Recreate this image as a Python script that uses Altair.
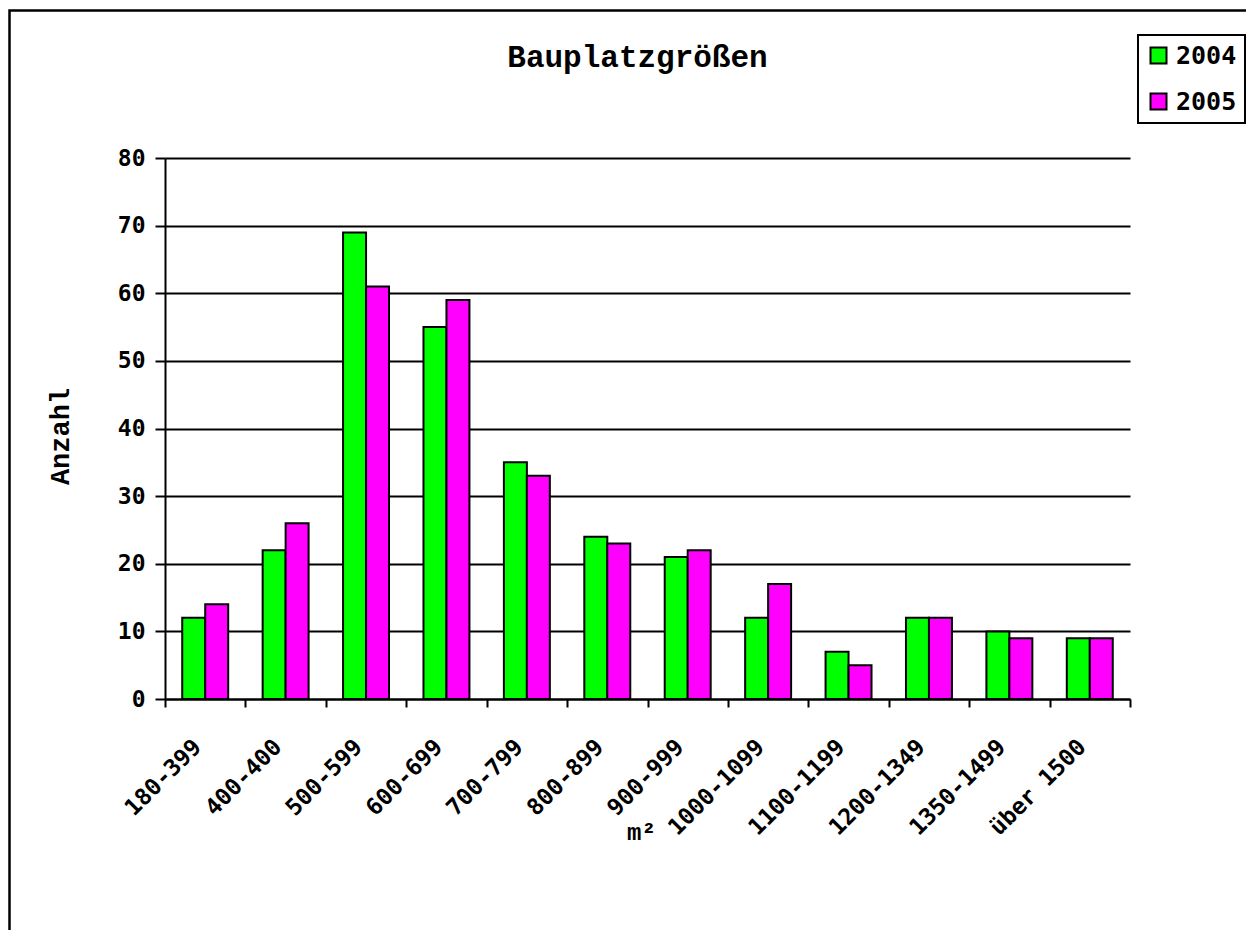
import altair as alt
import pandas as pd

categories = ["180-399", "400-400", "500-599", "600-699", "700-799", "800-899",
              "900-999", "1000-1099", "1100-1199", "1200-1349", "1350-1499", "über 1500"]
values_2004 = [12, 22, 69, 55, 35, 24, 21, 12, 7, 12, 10, 9]
values_2005 = [14, 26, 61, 59, 33, 23, 22, 17, 5, 12, 9, 9]
series = ["2004", "2005"]
colors = ["#00ff00", "#ff00ff"]
y_ticks = [0, 10, 20, 30, 40, 50, 60, 70, 80]
title_text = "Bauplatzgrößen"
x_title = "m²"
y_title = "Anzahl"

rows = []
for c, a, b in zip(categories, values_2004, values_2005):
    rows.append({"Kategorie": c, "Jahr": "2004", "Anzahl": a})
    rows.append({"Kategorie": c, "Jahr": "2005", "Anzahl": b})
df = pd.DataFrame(rows)

W, H = 965, 541
MONO = "Liberation Mono"
LBL = "DejaVu Sans Mono"

bars = alt.Chart(df).mark_bar(stroke="black", strokeWidth=2).encode(
    x=alt.X("Kategorie:N", sort=categories,
            scale=alt.Scale(paddingInner=0, paddingOuter=0),
            axis=alt.Axis(title=x_title, labelAngle=-45, labelAlign="right",
                          labelBaseline="middle", labelPadding=36, labelOffset=-8,
                          tickSize=8, tickBand="extent", tickWidth=2, tickColor="black",
                          domainColor="black", domainWidth=2,
                          labelFont=LBL, labelFontSize=23, labelFontWeight="bold",
                          labelColor="black",
                          titleFont=MONO, titleFontSize=24, titleFontWeight="bold",
                          titleColor="black", titleX=476, titleY=133,
                          titleBaseline="middle", titleAnchor="start", titleAlign="center")),
    xOffset=alt.XOffset("Jahr:N", sort=series,
                        scale=alt.Scale(paddingInner=0, paddingOuter=0.75)),
    y=alt.Y("Anzahl:Q", scale=alt.Scale(domain=[0, 80], nice=False),
            axis=alt.Axis(title=y_title, values=y_ticks, tickSize=10, tickWidth=2,
                          tickColor="black", domainColor="black", domainWidth=2,
                          grid=True, gridColor="black", gridWidth=2, gridOpacity=1,
                          labelPadding=10,
                          labelFont=LBL, labelFontSize=23, labelFontWeight="bold",
                          labelColor="black",
                          titleFont=MONO, titleFontSize=27, titleFontWeight="bold",
                          titleColor="black", titleX=-105, titleY=278,
                          titleBaseline="middle", titleAlign="center")),
    color=alt.Color("Jahr:N", sort=series,
                    scale=alt.Scale(domain=series, range=colors),
                    legend=alt.Legend(title=None, orient="none", legendX=973, legendY=-123,
                                      symbolType="square", symbolSize=256,
                                      symbolStrokeColor="black", symbolStrokeWidth=2,
                                      labelFont=LBL, labelFontSize=25, labelFontWeight="bold",
                                      labelColor="black", labelOffset=5, rowPadding=20,
                                      padding=8, strokeColor="black", fillColor="white")),
)

title_df = pd.DataFrame({"t": [title_text]})
title_mark = alt.Chart(title_df).mark_text(
    font=MONO, fontSize=31, fontWeight="bold", color="black",
    align="center", baseline="alphabetic"
).encode(text="t:N", x=alt.value(472.5), y=alt.value(-91))

frame_df = pd.DataFrame({"f": [1]})
frame = alt.Chart(frame_df).mark_rect(filled=False, stroke="black", strokeWidth=2.5).encode(
    x=alt.value(-155.5), x2=alt.value(2000), y=alt.value(-147.5), y2=alt.value(2000)
)

chart = alt.layer(frame, bars, title_mark).properties(
    width=W, height=H,
    autosize=alt.AutoSizeParams(type="none"),
    padding={"left": 157, "top": 150, "right": 116, "bottom": 231},
).configure_view(stroke=None).configure_legend(strokeWidth=2)

chart.save("out.html", embed_options={"renderer": "svg", "actions": False})
